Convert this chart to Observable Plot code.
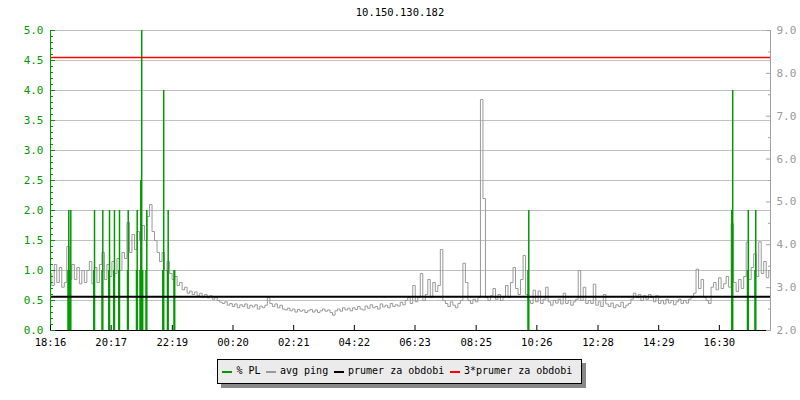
<!DOCTYPE html>
<html><head><meta charset="utf-8">
<script src="https://cdn.jsdelivr.net/npm/d3@7"></script>
<script src="https://cdn.jsdelivr.net/npm/@observablehq/plot@0.6"></script>
<style>
body{margin:0;background:#fff;}
#wrap{position:relative;width:800px;height:400px;font-family:"DejaVu Sans Mono",monospace;}
#title{position:absolute;left:0;top:5px;width:800px;text-align:center;font-size:10.5px;line-height:14px;color:#000;}
#legend{position:absolute;left:217px;top:359px;width:363px;height:23px;background:#ebebeb;border:1px solid #000;box-shadow:4px 4px 0 #888;}
.sw{position:absolute;top:11px;width:10px;height:2px;}
.lt{position:absolute;top:5px;font-size:10px;line-height:12px;white-space:pre;color:#000;}
</style></head><body>
<div id="wrap"><div id="chart"></div><div id="title"></div><div id="legend"></div></div>
<script>
const title = "10.150.130.182";
const xTickLabels = ["18:16","20:17","22:19","00:20","02:21","04:22","06:23","08:25","10:26","12:28","14:29","16:30"];
const xEnd = 1436; // minutes after 18:16 at right edge
const leftMajor = [0,0.5,1,1.5,2,2.5,3,3.5,4,4.5,5];
const rightMajor = [2,3,4,5,6,7,8,9];
const rightMinor = [2.5,3.5,4.5,5.5,6.5,7.5,8.5];
const seriesNames = ["% PL","avg ping","prumer za obdobi","3*prumer za obdobi"];
const seriesColors = ["#009a00","#999999","#000000","red"];

// avg ping (ms), one sample every 5 minutes from 18:16
const pingStart = 0, pingStep = 5;
const pingMs = [
3.33,3.05,3.54,3.12,3.47,3.01,3.12,3.96,3.19,3.54,3.19,3.47,3.09,3.40,3.12,3.40,3.61,3.09,3.47,3.12,3.54,3.82,3.19,3.54,
3.26,3.61,3.33,3.68,3.40,3.82,3.68,4.52,3.82,4.24,3.89,4.31,4.10,4.45,4.10,4.66,4.94,4.31,4.10,3.82,3.61,3.82,3.40,3.61,
3.33,3.19,3.26,3.05,3.12,2.95,3.01,2.87,2.92,2.84,2.90,2.81,2.87,2.77,2.84,2.76,2.81,2.73,2.77,2.70,2.66,2.63,2.67,2.59,
2.63,2.56,2.62,2.53,2.60,2.56,2.62,2.52,2.59,2.55,2.60,2.50,2.57,2.53,2.59,2.77,2.63,2.56,2.62,2.53,2.59,2.50,2.48,2.52,
2.46,2.50,2.43,2.49,2.45,2.48,2.42,2.46,2.49,2.43,2.48,2.42,2.46,2.50,2.45,2.48,2.42,2.36,2.46,2.50,2.45,2.53,2.48,2.52,
2.46,2.53,2.49,2.56,2.50,2.48,2.57,2.52,2.60,2.53,2.56,2.50,2.62,2.55,2.59,2.53,2.63,2.56,2.60,2.57,2.66,2.60,2.70,2.77,
2.63,3.05,2.67,2.77,3.33,2.70,2.84,3.19,2.77,3.12,2.91,3.05,3.89,2.70,2.63,2.56,2.67,2.59,2.53,2.63,2.70,3.57,3.12,2.70,
2.63,2.73,2.67,2.77,7.39,5.08,2.77,2.70,2.81,2.98,2.73,2.84,2.70,2.77,3.05,2.77,3.12,3.47,2.98,2.84,3.19,3.75,2.84,2.70,
2.63,2.94,2.67,2.92,2.63,2.73,3.01,2.67,2.59,2.70,2.64,2.73,2.62,2.87,2.63,2.70,2.59,2.67,2.73,3.40,2.70,3.01,2.63,2.70,
2.63,3.08,2.59,2.67,2.56,2.84,2.62,2.56,2.64,2.53,2.60,2.56,2.66,2.53,2.59,2.63,2.73,2.87,2.77,2.84,2.70,2.81,2.73,2.84,
2.77,2.67,2.81,2.63,2.70,2.62,2.73,2.64,2.70,2.60,2.67,2.73,2.63,2.70,2.64,2.73,2.77,2.87,3.43,2.98,3.19,2.77,2.70,2.63,
3.01,3.12,2.95,3.23,2.98,3.09,3.26,3.01,4.49,3.12,2.91,3.19,2.98,3.26,4.06,3.19,3.47,3.79,3.26,4.07,3.33,3.61,3.23,3.40
];
// packet loss (%) samples: minutes after 18:16, value
const plMin = [34.9,36.5,38.5,40.5,86.4,87.8,102.7,104.3,116.3,117.7,126.2,127.6,136.2,137.6,153.6,155.0,171.5,172.9,178.5,180.1,181.9,183.9,190.5,192.1,224.0,225.8,233.3,234.7,246.3,247.7,952.3,953.9,1358.8,1360.6,1390.1,1391.7,1405.0,1406.6];
const plVal = [1,2,1,2,1,2,1,2,1,2,1,2,1,2,1,2,1,2,1,2.5,5,1,1,2,1,4,1,2,1,1,1,2,2,4,1,2,1,2];
const meanPing = 2.79;

// dual axis mapping: right axis (ms, 2..9) onto left axis (0..5)
const leftMax = 5, rightMin = 2, rightMax = 9;
const toL = v => (v - rightMin) * leftMax / (rightMax - rightMin);
const fromL = L => rightMin + L * (rightMax - rightMin) / leftMax;

// tick minutes from labels (with midnight rollover)
const xTicks = [];
{ let prev = -1, day = 0; const [h0, m0] = xTickLabels[0].split(":").map(Number);
  for (const s of xTickLabels) { const [h, m] = s.split(":").map(Number); let t = h*60+m;
    if (t < prev) day++; prev = t; xTicks.push(t + day*1440 - (h0*60+m0)); } }
const xLabelOf = new Map(xTicks.map((t,i)=>[t, xTickLabels[i]]));
const leftMinor = d3.range(0, 51).map(i => i/10);

const ping = pingMs.map((v,i)=>({m: pingStart + i*pingStep, v}));
const pl = plMin.map((m,i)=>({m, v: plVal[i]}));
const G = seriesColors[0];

const chart = Plot.plot({
  width: 800, height: 400,
  marginLeft: 50, marginRight: 30, marginTop: 30, marginBottom: 70,
  x: {type: "linear", domain: [0, xEnd]},
  y: {domain: [0, leftMax]},
  style: {fontFamily: "DejaVu Sans Mono", fontSize: "10px", background: "transparent", color: "#000"},
  marks: [
    Plot.ruleY(leftMajor.filter(d => d > 0), {stroke: "#c0c0c0", strokeWidth: 1}),
    Plot.line(ping, {x: "m", y: d => toL(d.v), stroke: seriesColors[1], strokeWidth: 1, curve: "step"}),
    Plot.ruleX(pl, {x: "m", y1: 0, y2: "v", stroke: G, strokeWidth: 1.5}),
    Plot.ruleY([toL(meanPing)], {stroke: seriesColors[2], strokeWidth: 2}),
    Plot.ruleY([toL(3*meanPing)], {stroke: seriesColors[3], strokeWidth: 1.5}),
    Plot.ruleY([0], {stroke: "#000"}),
    Plot.ruleX([0], {stroke: G}),
    Plot.ruleX([xEnd], {stroke: "#a0a0a0"}),
    Plot.axisY(leftMajor, {anchor: "left", tickSize: 5, dx: 5, stroke: G, fill: "none", label: null}),
    Plot.axisY(leftMinor, {anchor: "left", tickSize: 3, dx: 3, stroke: G, fill: "none", label: null}),
    Plot.axisY(leftMajor, {anchor: "left", tickSize: 0, tickPadding: 7, fill: G, fontSize: 11, tickFormat: d => d.toFixed(1), label: null}),
    Plot.axisY(rightMajor.map(toL), {anchor: "right", tickSize: 5, dx: -5, stroke: "#a0a0a0", fill: "none", label: null}),
    Plot.axisY(rightMinor.map(toL), {anchor: "right", tickSize: 3, dx: -3, stroke: "#a0a0a0", fill: "none", label: null}),
    Plot.axisY(rightMajor.map(toL), {anchor: "right", tickSize: 0, tickPadding: 6, fill: "#999", fontSize: 11, tickFormat: d => fromL(d).toFixed(1), label: null}),
    Plot.axisX(xTicks, {anchor: "bottom", tickSize: 5, dy: -5, stroke: "#000", fill: "none", label: null}),
    Plot.axisX(xTicks, {anchor: "bottom", tickSize: 0, tickPadding: 8, fill: "#000", fontSize: 10.5, tickFormat: d => xLabelOf.get(d), label: null})
  ]
});
document.getElementById("chart").appendChild(chart);
document.getElementById("title").textContent = title;

const lg = document.getElementById("legend");
const swX = [4, 48, 116, 232], txX = [18.5, 62, 130, 246];
seriesNames.forEach((n,i)=>{
  const s = document.createElement("div"); s.className = "sw"; s.style.left = swX[i]+"px"; s.style.background = seriesColors[i]; lg.appendChild(s);
  const t = document.createElement("div"); t.className = "lt"; t.style.left = txX[i]+"px"; t.textContent = n; lg.appendChild(t);
});
</script>
</body></html>
